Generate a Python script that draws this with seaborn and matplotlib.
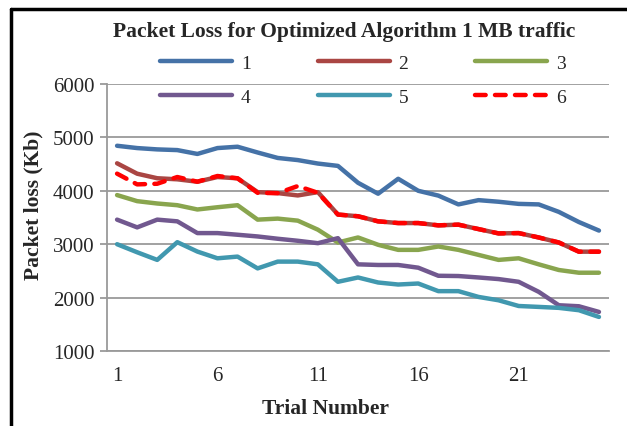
import numpy as np
import pandas as pd
import seaborn as sns
import matplotlib.pyplot as plt

trials = list(range(1, 26))
s1 = [4843, 4800, 4775, 4762, 4690, 4800, 4825, 4717, 4615, 4575, 4510, 4466, 4150,
      3945, 4225, 4000, 3910, 3745, 3825, 3795, 3755, 3745, 3605, 3415, 3255]
s2 = [4515, 4320, 4235, 4215, 4170, 4258, 4234, 3975, 3957, 3913, 3975, 3555, 3523,
      3428, 3396, 3396, 3353, 3366, 3283, 3202, 3208, 3126, 3032, 2860, 2860]
s3 = [3920, 3806, 3762, 3730, 3650, 3692, 3730, 3460, 3479, 3441, 3272, 3032, 3126,
      2989, 2894, 2894, 2957, 2894, 2800, 2706, 2736, 2623, 2517, 2466, 2466]
s4 = [3460, 3315, 3460, 3428, 3208, 3208, 3177, 3145, 3102, 3064, 3019, 3113, 2623,
      2611, 2611, 2560, 2409, 2404, 2377, 2347, 2296, 2108, 1857, 1838, 1732]
s5 = [3000, 2849, 2706, 3038, 2862, 2736, 2768, 2547, 2674, 2674, 2623, 2296, 2377,
      2283, 2245, 2264, 2121, 2121, 2013, 1950, 1843, 1826, 1808, 1764, 1638]
s6 = [4321, 4120, 4132, 4258, 4170, 4277, 4234, 3962, 3955, 4089, 3962, 3555, 3523,
      3428, 3396, 3396, 3353, 3366, 3283, 3202, 3208, 3126, 3032, 2860, 2860]
names = ["1", "2", "3", "4", "5", "6"]
xticks = [1, 6, 11, 16, 21]

colors = ["#4572A7", "#AA4643", "#89A54E", "#71588F", "#4198AF", "#FF0000"]

df = pd.DataFrame({"trial": trials * 6,
                   "loss": s1 + s2 + s3 + s4 + s5 + s6,
                   "series": [n for n in names for _ in trials]})

sns.set_style("white")
plt.rcParams["font.family"] = ["Liberation Serif", "DejaVu Serif"]

fig = plt.figure(figsize=(6.27, 4.27), dpi=100)
ax = fig.add_axes([0.1707, 0.1756, 0.8006, 0.6254])

dashes = {n: "" for n in names[:5]}
dashes["6"] = (2.4, 2.1)
sns.lineplot(data=df, x="trial", y="loss", hue="series", style="series",
             palette=dict(zip(names, colors)), dashes=dashes, linewidth=3.2,
             ax=ax, legend=False)
for ln in ax.get_lines():
    ln.set_solid_capstyle("round")
    ln.set_dash_capstyle("round")

ax.set_xlim(0.5, 25.5)
ax.set_ylim(1000, 6000)
ax.set_yticks(range(1000, 6001, 1000))
ax.set_xticks(xticks)
ax.set_xticklabels([str(t) for t in xticks])
ax.yaxis.grid(True, color="#9a9a9a", linewidth=1.3)
ax.set_axisbelow(True)
for side in ["top", "right"]:
    ax.spines[side].set_visible(False)
for side in ["left", "bottom"]:
    ax.spines[side].set_color("#9a9a9a")
    ax.spines[side].set_linewidth(1.3)
ax.tick_params(axis="y", length=5, width=1.3, color="#9a9a9a", labelsize=15, pad=4, left=True)
ax.tick_params(axis="x", length=0, labelsize=15, pad=11)

ax.set_xlabel("Trial Number", fontsize=15.5, fontweight="bold")
ax.set_ylabel("Packet loss (Kb)", fontsize=15.5, fontweight="bold")
ax.xaxis.set_label_coords((325 - 107) / 502, -(399 - 352) / 267)
ax.yaxis.set_label_coords(-(107 - 43) / 502, (352 - 205) / 267)
fig.text(344 / 627, 1 - 32 / 427, "Packet Loss for Optimized Algorithm 1 MB traffic",
         ha="center", va="center", fontsize=15.5, fontweight="bold")

lines = ax.get_lines()[:6]
order = [0, 3, 1, 4, 2, 5]
fig.legend([lines[i] for i in order], [names[i] for i in order], ncol=3,
           loc="center", bbox_to_anchor=(363 / 627, 1 - 81 / 427),
           frameon=False, fontsize=14, handlelength=3.7, columnspacing=3.45,
           labelspacing=0.85, handletextpad=0.45)

fig.add_artist(plt.Line2D([0.0175, 0.0175], [0, 0.977], color="black", lw=2.5,
                          transform=fig.transFigure))
fig.add_artist(plt.Line2D([0.0175, 1.0], [0.977, 0.977], color="black", lw=2.5,
                          transform=fig.transFigure))

fig.savefig("out.png", dpi=100)
